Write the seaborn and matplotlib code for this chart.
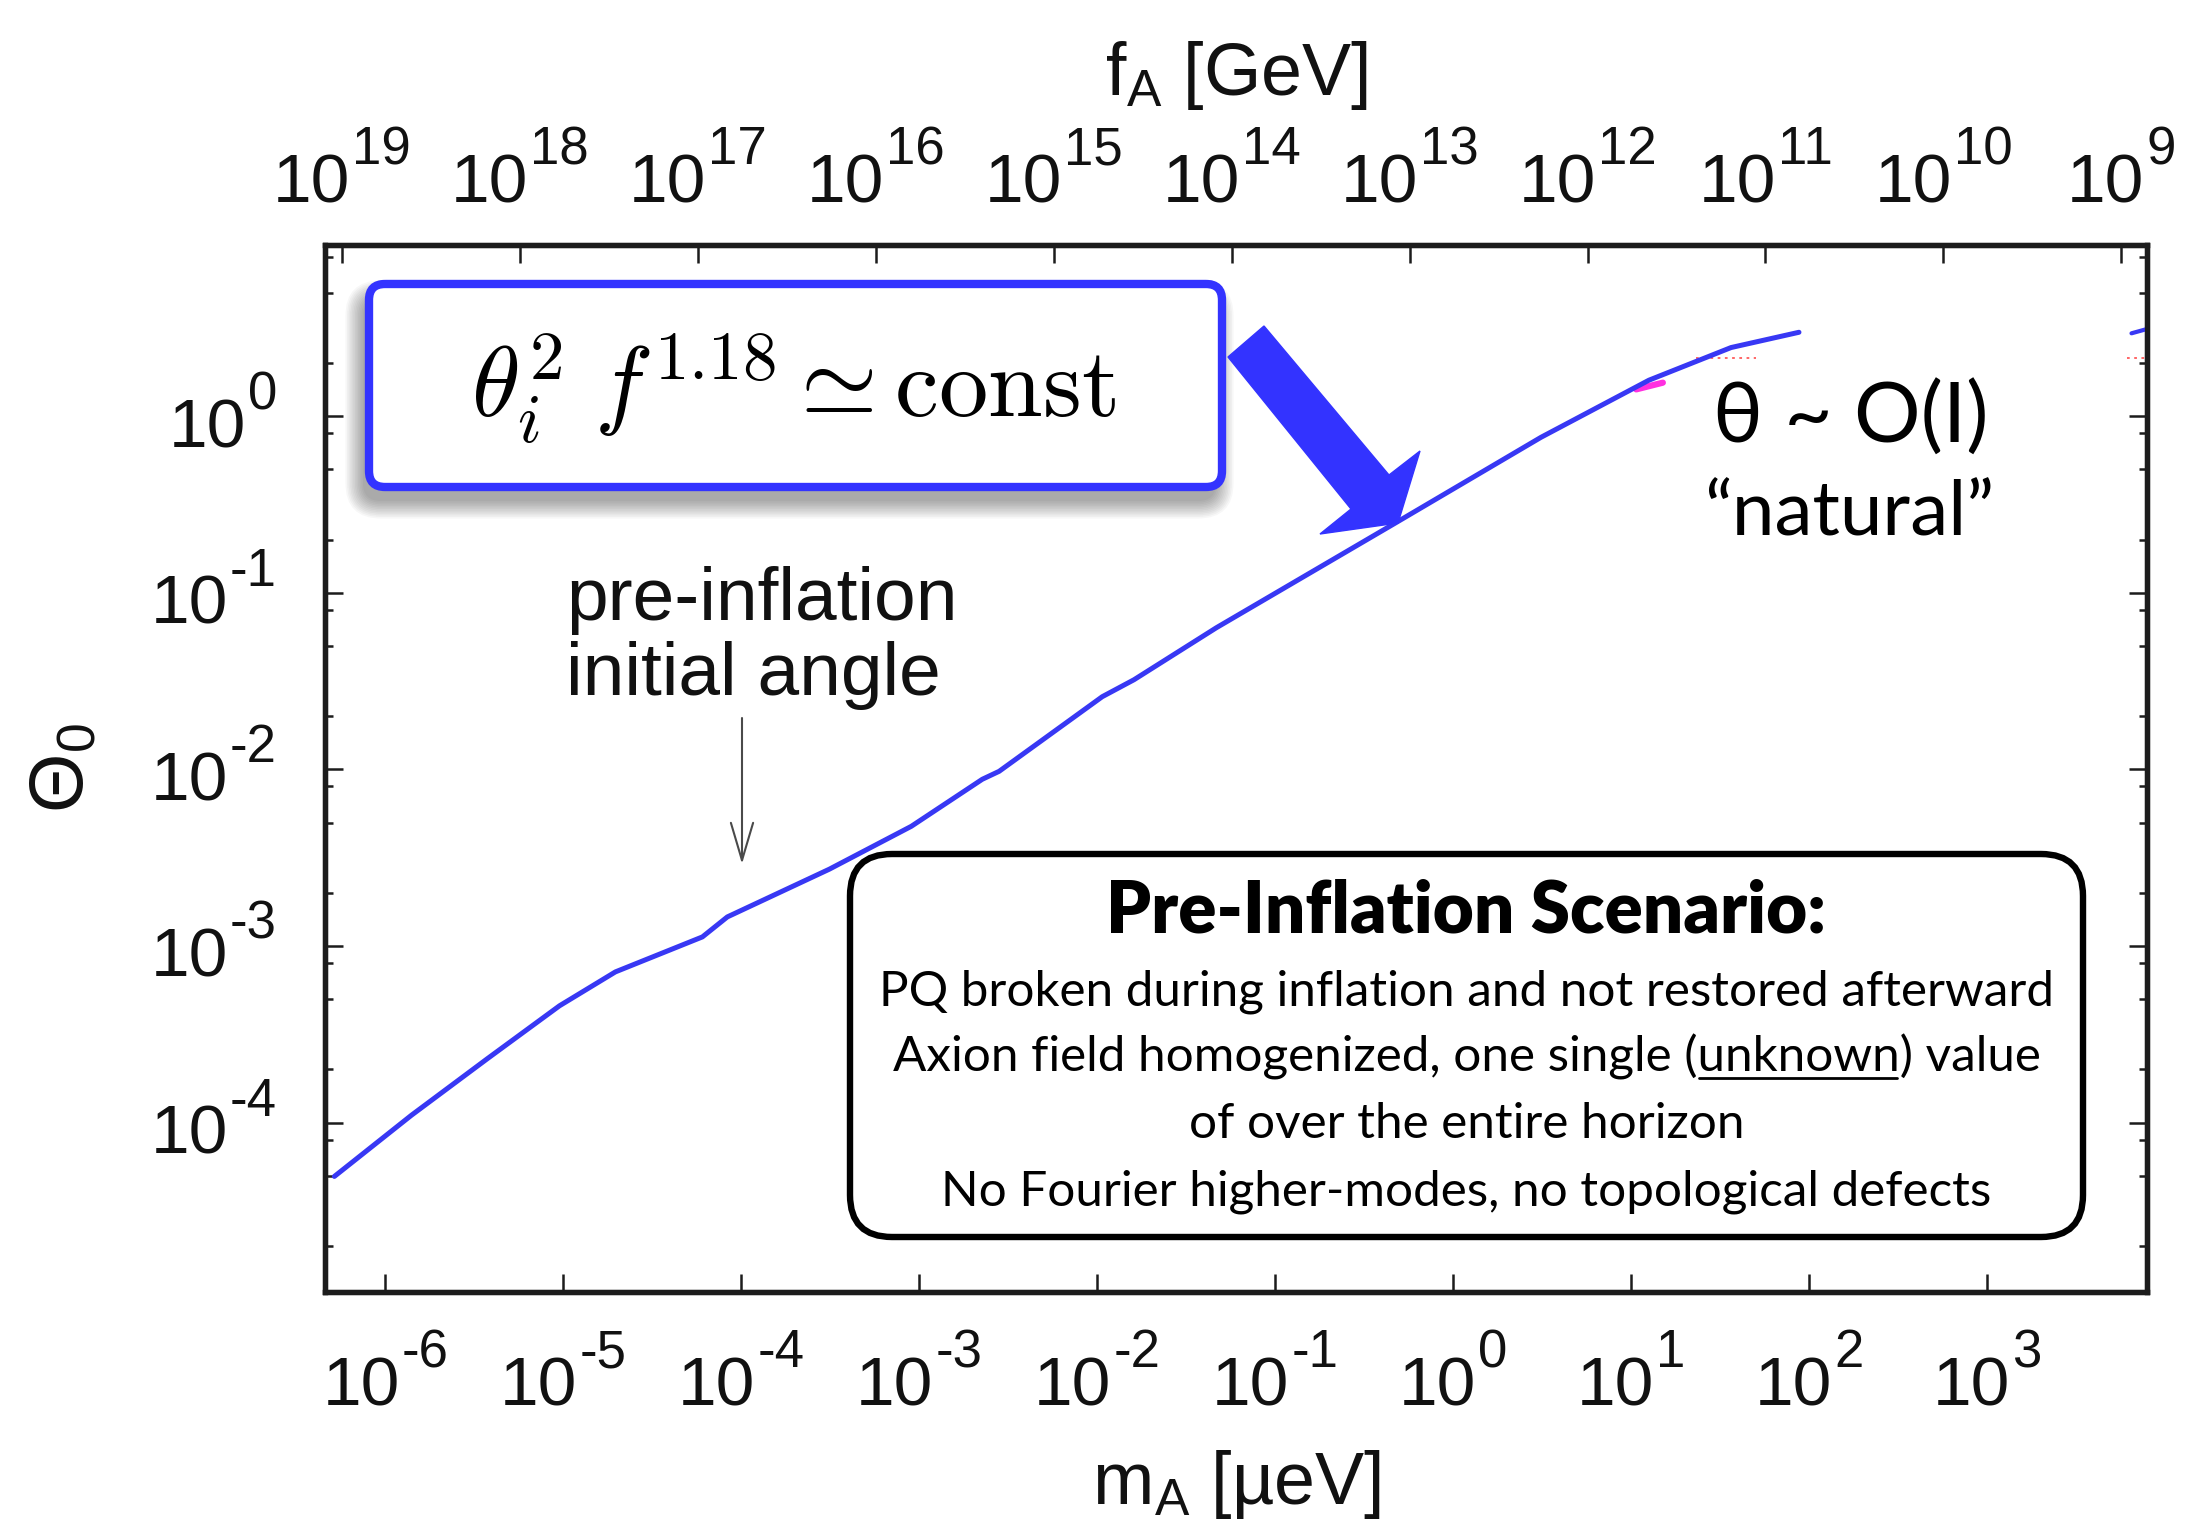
import numpy as np
import pandas as pd
import seaborn as sns
import matplotlib
matplotlib.use("Agg")
import matplotlib.pyplot as plt
from matplotlib.patches import FancyBboxPatch, Polygon
from matplotlib.ticker import FixedLocator, NullLocator, NullFormatter

# ---- data -------------------------------------------------------------
# axion mass [micro-eV] and the pre-inflation initial angle Theta_0
mass_ueV = [5.16e-7, 1.40e-6, 3.74e-6, 9.50e-6, 1.96e-5, 6.04e-5, 8.34e-5,
            3.12e-4, 9.02e-4, 2.26e-3, 2.81e-3, 1.067e-2, 1.61e-2, 4.67e-2,
            0.472, 3.12, 12.6, 36.5, 87.9]
theta_0 = [4.95e-5, 1.10e-4, 2.30e-4, 4.58e-4, 7.13e-4, 1.125e-3, 1.46e-3,
           2.72e-3, 4.76e-3, 8.79e-3, 9.75e-3, 2.58e-2, 3.22e-2, 6.34e-2,
           0.248, 0.760, 1.60, 2.45, 2.99]

# short visible pieces of other curves near theta ~ 1-3
red_mass_a = [23.2, 50.1]
red_mass_b = [6170.0, 7940.0]
red_theta = [2.15, 2.15]
magenta_mass = [10.7, 15.1]
magenta_theta = [1.42, 1.55]
edge_mass = [6500.0, 7940.0]
edge_theta = [2.95, 3.12]

# axes ranges and ticks (label = base 10 with exponent)
mass_lim = (10 ** -6.34, 10 ** 3.9)
theta_lim = (10 ** -4.96, 10 ** 0.97)
mass_exps = [-6, -5, -4, -3, -2, -1, 0, 1, 2, 3]
fa_exps = [19, 18, 17, 16, 15, 14, 13, 12, 11, 10, 9]
theta_exps = [-4, -3, -2, -1, 0]
theta_minor = [k * 10.0 ** n for n in range(-5, 1) for k in (2, 5, 8)]

FA_TIMES_MA = 5.7e12  # f_A [GeV] * m_A [micro-eV]

# ---- style ------------------------------------------------------------
sns.set_theme(style="ticks")
plt.rcParams["font.family"] = ["Liberation Sans", "DejaVu Sans"]
plt.rcParams["mathtext.fontset"] = "custom"
plt.rcParams["mathtext.rm"] = "Liberation Sans"
plt.rcParams["mathtext.it"] = "Liberation Sans:italic"
plt.rcParams["mathtext.bf"] = "Liberation Sans:bold"
plt.rcParams["mathtext.sf"] = "Liberation Sans"

BLUE = "#3838f4"
ARROW_BLUE = "#3333ff"
INK = "#1c1c1c"
TXT = "#111111"
GILL = ["Lato", "DejaVu Sans"]
BASE_SIZE, EXP_SIZE = 50, 38

W, H = 2198, 1523
fig = plt.figure(figsize=(W / 100, H / 100), dpi=100)
fig.patch.set_facecolor("white")

ax_l, ax_r, ax_t, ax_b = 325, 2147, 245, 1292
ax = fig.add_axes([ax_l / W, 1 - ax_b / H, (ax_r - ax_l) / W, (ax_b - ax_t) / H])
ax.set_facecolor("white")

df = pd.DataFrame({"m_A": mass_ueV, "theta": theta_0})
sns.lineplot(data=df, x="m_A", y="theta", ax=ax, color=BLUE, lw=3.6,
             estimator=None, sort=False, zorder=5)
ax.plot(red_mass_a, red_theta, color="#ff5a5a", lw=1.3, ls=(0, (1.5, 2.5)), zorder=4)
ax.plot(red_mass_b, red_theta, color="#ff5a5a", lw=1.3, ls=(0, (1.5, 2.5)), zorder=4)
ax.plot(magenta_mass, magenta_theta, color="#ff30e0", lw=4.5, zorder=4)
ax.plot(edge_mass, edge_theta, color=BLUE, lw=3.0, zorder=4)

ax.set_xscale("log")
ax.set_yscale("log")
ax.set_xlim(*mass_lim)
ax.set_ylim(*theta_lim)

mass_ticks = [10.0 ** e for e in mass_exps]
theta_ticks = [10.0 ** e for e in theta_exps]
fa_ticks = [10.0 ** e for e in fa_exps]

ax.xaxis.set_major_locator(FixedLocator(mass_ticks))
ax.xaxis.set_minor_locator(NullLocator())
ax.yaxis.set_major_locator(FixedLocator(theta_ticks))
ax.yaxis.set_minor_locator(FixedLocator(theta_minor))
ax.yaxis.set_minor_formatter(NullFormatter())

for s in ax.spines.values():
    s.set_linewidth(3.8)
    s.set_color(INK)
    s.set_visible(True)

ax.tick_params(which="both", direction="in", color=INK, right=True, top=False,
               width=1.8, labelbottom=False, labelleft=False)
ax.tick_params(which="major", length=13)
ax.tick_params(which="minor", length=6)

ax.set_xlabel(r"m$_\mathrm{A}$ [µeV]", fontsize=53, color=TXT)
ax.xaxis.set_label_coords(0.5, -0.149)
ax.set_ylabel(r"$\Theta_0$", fontsize=55, color=TXT)
ax.yaxis.set_label_coords(-0.1235, 0.5)

# top axis: decay constant
ax2 = ax.twiny()
ax2.set_xscale("log")
ax2.set_xlim(FA_TIMES_MA / mass_lim[0], FA_TIMES_MA / mass_lim[1])
ax2.xaxis.set_major_locator(FixedLocator(fa_ticks))
ax2.xaxis.set_minor_locator(NullLocator())
ax2.tick_params(axis="x", which="major", direction="in", length=13, width=1.8,
                color=INK, labeltop=False)
for s in ax2.spines.values():
    s.set_linewidth(3.8)
    s.set_color(INK)
ax2.set_xlabel(r"f$_\mathrm{A}$ [GeV]", fontsize=53, color=TXT)
ax2.xaxis.set_label_coords(0.5, 1.1433)

# ---- annotation layer in pixel units (origin top-left) -------------------
ov = fig.add_axes([0, 0, 1, 1], zorder=10)
ov.set_xlim(0, W)
ov.set_ylim(H, 0)
ov.axis("off")
ov.patch.set_alpha(0)

fig.canvas.draw()
rend = fig.canvas.get_renderer()


def text_width(s, size, **kw):
    t = ov.text(0, 0, s, fontsize=size, **kw)
    w = t.get_window_extent(rend).width
    t.remove()
    return w


def power_label(x, base_y, exp, align="center"):
    """Draw '10' with a raised exponent; x is the centre or the right edge."""
    e = str(exp).replace("-", "-")
    wb = text_width("10", BASE_SIZE)
    we = text_width(e, EXP_SIZE)
    total = wb + 2 + we
    x0 = x - total / 2 if align == "center" else x - total
    ov.text(x0, base_y, "10", fontsize=BASE_SIZE, ha="left", va="baseline", color=TXT)
    ov.text(x0 + wb + 2, base_y - 38, e, fontsize=EXP_SIZE, ha="left",
            va="baseline", color=TXT)


# tick labels placed from the axes' own transforms
for e, m in zip(mass_exps, mass_ticks):
    px = ax.transData.transform((m, theta_lim[0]))[0]
    power_label(px, 1405, e)
for e, f in zip(fa_exps, fa_ticks):
    px = ax2.transData.transform((f, theta_lim[0]))[0]
    power_label(px, 202, e)
for e, t in zip(theta_exps, theta_ticks):
    py = H - ax.transData.transform((mass_lim[0], t))[1]
    power_label(277, py + 31, e, align="right")

# formula box: soft drop shadow, white card, blue border
bx0, by0, bx1, by1 = 369, 284, 1222, 487
bw, bh = bx1 - bx0, by1 - by0
for k in range(12):
    g = 1.6 * k
    ov.add_patch(FancyBboxPatch((bx0 - 6 - g, by0 + 14 - g), bw + 2 * g, bh + 2 * g,
                                boxstyle="round,pad=0,rounding_size=%g" % (18 + g),
                                fc="black", ec="none", alpha=0.03))
ov.add_patch(FancyBboxPatch((bx0, by0), bw, bh,
                            boxstyle="round,pad=0,rounding_size=16",
                            fc="white", ec=ARROW_BLUE, lw=6.0))
ov.add_patch(FancyBboxPatch((bx0 + 1.5, by0 - 2.5), bw - 2, bh + 3,
                            boxstyle="round,pad=0,rounding_size=16",
                            fc="none", ec=ARROW_BLUE, lw=2.2, alpha=0.7))
ov.text((bx0 + bx1) / 2 - 2, 418, r"$\theta_i^2\;f^{1.18}\simeq\mathrm{const}$",
        math_fontfamily="cm", fontsize=71, ha="center", va="baseline", color="black")

# thick blue pointer
ov.add_patch(Polygon([(1264, 326), (1389, 475), (1420, 451), (1398, 523),
                      (1320, 534), (1351, 509), (1228, 357)],
                     closed=True, fc=ARROW_BLUE, ec=ARROW_BLUE, lw=1))

# pre-inflation label with thin arrow
ov.text(566, 620, "pre-inflation", fontsize=54, ha="left", va="baseline", color=TXT)
ov.text(566, 695, "initial angle", fontsize=54, ha="left", va="baseline", color=TXT)
ov.annotate("", xy=(742, 864), xytext=(742, 718),
            arrowprops=dict(arrowstyle="->,head_length=2.7,head_width=0.8",
                            color="#4a4a4a", lw=1.5, shrinkA=0, shrinkB=0,
                            mutation_scale=10))

# natural-value note
ov.text(1851, 443, "θ ~ O(I)", family=GILL, fontsize=60, ha="center",
        va="baseline", color="black")
ov.text(1849, 535, "\u201cnatural\u201d", family=GILL, fontsize=55, ha="center",
        va="baseline", color="black")

# scenario box
sx0, sy0, sx1, sy1 = 850, 854, 2083, 1237
ov.add_patch(FancyBboxPatch((sx0, sy0), sx1 - sx0, sy1 - sy0,
                            boxstyle="round,pad=0,rounding_size=42",
                            fc="white", ec="black", lw=4.6))
cx = (sx0 + sx1) / 2
ov.text(cx, 932, "Pre-Inflation Scenario:", family=GILL, fontsize=51,
        fontweight="heavy", ha="center", va="baseline", color="black")
box_lines = ["PQ broken during inflation and not restored afterward",
             "Axion field homogenized, one single (unknown) value",
             "of over the entire horizon",
             "No Fourier higher-modes, no topological defects"]
baselines = [1005, 1072, 1138, 1205]
LINE_SIZE = 35.6
line_texts = []
for s, yb in zip(box_lines, baselines):
    line_texts.append(ov.text(cx, yb, s, family=GILL, fontsize=LINE_SIZE, ha="center",
                              va="baseline", color="black"))

# underline the word "unknown"
fig.canvas.draw()
rend = fig.canvas.get_renderer()
full_bb = line_texts[1].get_window_extent(rend)
prefix, word = "Axion field homogenized, one single (", "unknown"
w_pre = text_width(prefix, LINE_SIZE, family=GILL)
w_word = text_width(prefix + word, LINE_SIZE, family=GILL)
ov.plot([full_bb.x0 + w_pre + 2, full_bb.x0 + w_word - 2], [1078, 1078],
        color="black", lw=2.0)

fig.savefig("out.png", dpi=100, facecolor="white")
